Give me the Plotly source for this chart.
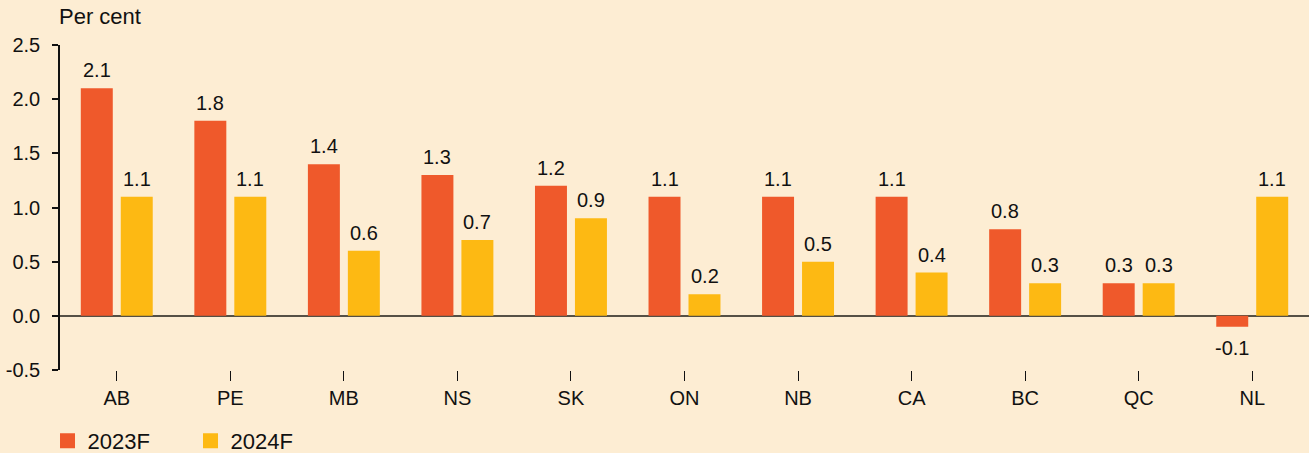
import plotly.graph_objects as go

provinces = ["AB", "PE", "MB", "NS", "SK", "ON", "NB", "CA", "BC", "QC", "NL"]
growth_2023 = [2.1, 1.8, 1.4, 1.3, 1.2, 1.1, 1.1, 1.1, 0.8, 0.3, -0.1]
growth_2024 = [1.1, 1.1, 0.6, 0.7, 0.9, 0.2, 0.5, 0.4, 0.3, 0.3, 1.1]
series_names = ["2023F", "2024F"]
y_ticks = [-0.5, 0.0, 0.5, 1.0, 1.5, 2.0, 2.5]

BG = "#FDEDD3"
C23 = "#EF592B"
C24 = "#FDB913"
FONT = "Liberation Sans, Arial, sans-serif"
TXT = "#111111"

fig = go.Figure()
annotations = []
for name, vals, col, shift in [(series_names[0], growth_2023, C23, -20),
                               (series_names[1], growth_2024, C24, 20)]:
    fig.add_trace(go.Bar(
        x=provinces, y=vals, name=name, marker_color=col, marker_line_width=0,
        showlegend=False,
    ))
    fig.add_trace(go.Scatter(
        x=[None], y=[None], mode="markers", name=name,
        marker=dict(symbol="square", size=15, color=col),
    ))
    for p, v in zip(provinces, vals):
        annotations.append(dict(
            x=p, y=v, xref="x", yref="y", text=f"{v:.1f}", showarrow=False,
            xshift=shift, yanchor="bottom" if v >= 0 else "top",
            yshift=5 if v >= 0 else -8,
            font=dict(size=20, family=FONT, color=TXT),
        ))

annotations.append(dict(text="Per cent", xref="paper", yref="paper", x=0.0, y=1.0,
                        xanchor="left", yanchor="bottom", xshift=-3, yshift=14,
                        showarrow=False, font=dict(size=22, family=FONT, color=TXT)))

fig.update_layout(
    width=1309, height=453,
    paper_bgcolor=BG, plot_bgcolor=BG,
    margin=dict(l=60, r=0, t=45, b=83, autoexpand=False),
    barmode="group", bargap=0.296, bargroupgap=0.2,
    font=dict(family=FONT, size=20, color=TXT),
    legend=dict(orientation="h", x=-0.01, xanchor="left", y=-0.218, yanchor="middle",
                font=dict(size=22), entrywidth=98, entrywidthmode="pixels",
                bgcolor="rgba(0,0,0,0)", itemwidth=30),
    showlegend=True,
    annotations=annotations,
)
fig.update_xaxes(type="category", range=[-0.5, 10.5], showline=False, showgrid=False,
                 ticks="outside", ticklen=10, tickcolor=TXT, tickwidth=1,
                 tickfont=dict(size=20), ticklabelstandoff=0, zeroline=False,
                 automargin=False)
fig.update_yaxes(range=[-0.5, 2.5], tickvals=y_ticks, ticktext=[f"{v:.1f}" for v in y_ticks],
                 showline=True, linecolor=TXT, linewidth=1.5, ticks="outside",
                 ticklen=6, tickcolor=TXT, tickwidth=1.5, showgrid=False,
                 zeroline=True, zerolinecolor="#555045", zerolinewidth=1.5,
                 tickfont=dict(size=20), ticklabelstandoff=8, automargin=False)

fig.write_html("out.html", config={"displayModeBar": False},
               post_script="document.body.style.margin='0';")
